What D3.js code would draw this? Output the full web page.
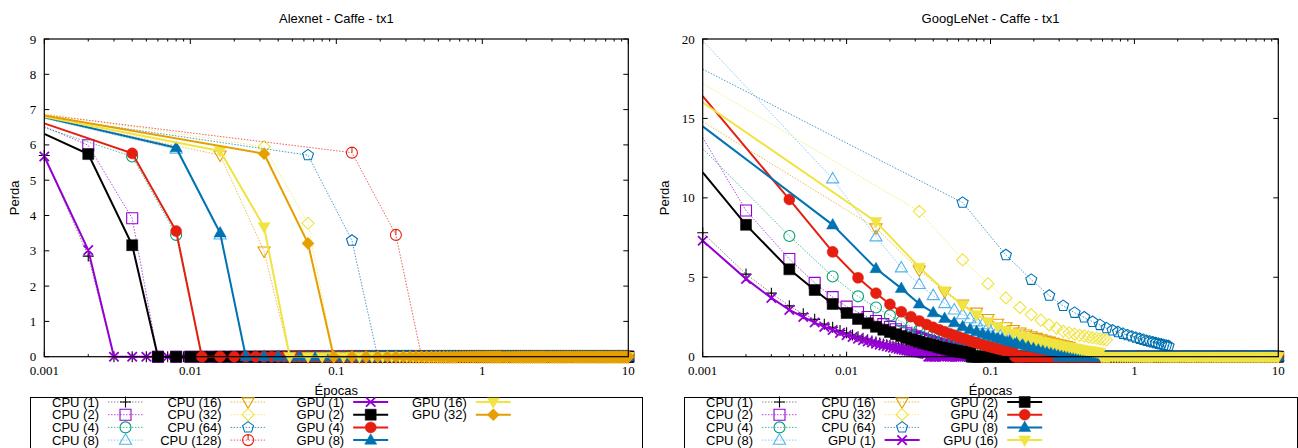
<!DOCTYPE html>
<html>
<head>
<meta charset="utf-8">
<script src="https://cdn.jsdelivr.net/npm/d3@7"></script>
<style>
  body { margin: 0; background: #fff; }
  svg text { font-family: "Liberation Sans", Arial, sans-serif; font-size: 13px; fill: #000; }
  svg text.num { font-family: "Liberation Serif", "Times New Roman", serif; font-size: 13px; }
</style>
</head>
<body>
<svg id="chart" width="1298" height="448"></svg>
<script>
// ---- axes ----
const X_TICKS = [0.001, 0.01, 0.1, 1, 10];
const X_TICK_LABELS = ['0.001', '0.01', '0.1', '1', '10'];
const ALEX_Y_TICKS = [0, 1, 2, 3, 4, 5, 6, 7, 8, 9];
const GOOG_Y_TICKS = [0, 5, 10, 15, 20];
const EPOCH_END = 10;

// ---- Alexnet - Caffe - tx1 (loss per iteration, then flat at 0 up to 10 epochs) ----
const alexCpu1 = [5.70, 2.85];
const alexCpu2 = [5.99, 3.92];
const alexCpu4 = [5.67, 3.45];
const alexCpu8 = [5.88, 3.45];
const alexCpu16 = [5.71, 2.99];
const alexCpu32 = [5.95, 3.78];
const alexCpu64 = [5.71, 3.29];
const alexCpu128 = [5.78, 3.45];
const alexGpu1 = [5.67, 3.02];
const alexGpu2 = [5.74, 3.16];
const alexGpu4 = [5.76, 3.56];
const alexGpu8 = [5.92, 3.51];
const alexGpu16 = [5.83, 3.68];
const alexGpu32 = [5.75, 3.21];
// loss at the left edge (0.001 epochs) for runs whose first iteration is further right
const alexStart = { 'CPU (2)': 6.52, 'CPU (4)': 6.49, 'CPU (8)': 6.75, 'CPU (16)': 6.78, 'CPU (32)': 6.89,
  'CPU (64)': 6.80, 'CPU (128)': 6.85, 'GPU (2)': 6.31, 'GPU (4)': 6.61, 'GPU (8)': 6.78,
  'GPU (16)': 6.80, 'GPU (32)': 6.83 };

// ---- GoogLeNet - Caffe - tx1 ----
const googCpu1 = [7.8, 5.2, 4.0, 3.2, 2.7, 2.35, 2.05, 1.85, 1.65, 1.5, 1.37, 1.26, 1.16, 1.07, 0.99, 0.92, 0.86, 0.8,
  0.75, 0.7, 0.66, 0.62, 0.58, 0.55, 0.52, 0.49, 0.46, 0.43, 0.41, 0.38, 0.36, 0.34, 0.32, 0.3, 0.28, 0.26];
const googCpu2 = [9.2, 6.15, 4.65, 3.75, 3.15, 2.8, 2.5, 2.25, 2.05, 1.88, 1.73, 1.6, 1.48, 1.38, 1.28, 1.2, 1.12, 1.05,
  0.98, 0.92, 0.86, 0.81, 0.76, 0.71, 0.67, 0.63, 0.59, 0.55, 0.52, 0.49, 0.46, 0.43, 0.4, 0.38, 0.35, 0.33];
const googCpu4 = [7.6, 5.05, 3.8, 3.1, 2.6, 2.2, 1.9, 1.68, 1.5, 1.36, 1.24, 1.14, 1.05, 0.97, 0.9, 0.84, 0.78, 0.73,
  0.68, 0.64, 0.6, 0.56, 0.53, 0.5, 0.47, 0.44, 0.41, 0.39, 0.36, 0.34];
const googCpu8 = [11.2, 7.55, 5.6, 4.55, 3.85, 3.35, 2.95, 2.65, 2.4, 2.2, 2.02, 1.87, 1.74, 1.62, 1.51, 1.41, 1.32,
  1.24, 1.16, 1.09, 1.02, 0.96, 0.9, 0.85, 0.8, 0.75, 0.7, 0.66];
const googCpu16 = [8.1, 5.45, 4.1, 3.3, 2.8, 2.4, 2.1, 1.88, 1.7, 1.55, 1.42, 1.31, 1.21, 1.12, 1.04, 0.97, 0.9, 0.84,
  0.79, 0.74, 0.69, 0.65];
const googCpu32 = [9.15, 6.1, 4.6, 3.7, 3.1, 2.65, 2.3, 2.0, 1.8, 1.6, 1.5, 1.42, 1.35, 1.3, 1.25, 1.2, 1.16, 1.12,
  1.09, 1.06];
const googCpu64 = [9.7, 6.4, 4.85, 3.85, 3.2, 2.77, 2.48, 2.2, 2.0, 1.8, 1.66, 1.55, 1.45, 1.36, 1.28, 1.2, 1.13, 1.07,
  1.01, 0.96, 0.91, 0.86, 0.82, 0.78, 0.74, 0.7, 0.67];
const googGpu1 = [7.3, 4.9, 3.7, 2.95, 2.5, 2.15, 1.88, 1.68, 1.5, 1.36, 1.24, 1.13, 1.04, 0.96, 0.89, 0.82, 0.76, 0.71,
  0.66, 0.61, 0.57, 0.53, 0.49, 0.46, 0.43, 0.4, 0.37, 0.34, 0.31, 0.29, 0.27, 0.25, 0.23, 0.21, 0.19, 0.17];
const googGpu2 = [8.3, 5.5, 4.2, 3.32, 2.75, 2.38, 2.1, 1.88, 1.7, 1.55, 1.42, 1.3, 1.2, 1.1, 1.02, 0.94, 0.87, 0.81,
  0.75, 0.7, 0.65, 0.6, 0.56, 0.52, 0.48, 0.45, 0.42, 0.39, 0.36, 0.33, 0.31, 0.29, 0.27, 0.25, 0.23, 0.21];
const googGpu4 = [9.9, 6.6, 4.97, 4.0, 3.3, 2.83, 2.52, 2.25, 2.03, 1.85, 1.7, 1.57, 1.45, 1.35, 1.25, 1.16, 1.08, 1.0,
  0.93, 0.87, 0.81, 0.76, 0.71, 0.66, 0.62, 0.58, 0.54, 0.5, 0.47, 0.44, 0.41, 0.38, 0.35, 0.33, 0.31, 0.29];
const googGpu8 = [8.3, 5.55, 4.3, 3.32, 2.77, 2.42, 2.14, 1.89, 1.72, 1.58, 1.46, 1.35, 1.26, 1.18, 1.1, 1.03, 0.97,
  0.91, 0.86, 0.81, 0.76, 0.72, 0.68, 0.64, 0.6, 0.57, 0.54, 0.51, 0.48, 0.45, 0.42, 0.4, 0.37, 0.35, 0.33, 0.31];
const googGpu16 = [8.5, 5.63, 4.15, 3.26, 2.63, 2.2, 1.89, 1.65, 1.48, 1.35, 1.24, 1.14, 1.06, 0.99, 0.93, 0.87, 0.82,
  0.77, 0.72, 0.68, 0.64, 0.6, 0.57, 0.54, 0.51, 0.48, 0.45, 0.42, 0.4, 0.38, 0.36, 0.34, 0.32, 0.3, 0.28, 0.26];
const googStart = { 'CPU (2)': 13.8, 'CPU (4)': 13.1, 'CPU (8)': 19.9, 'CPU (16)': 14.8, 'CPU (32)': 17.2,
  'CPU (64)': 18.1, 'GPU (2)': 11.6, 'GPU (4)': 16.4, 'GPU (8)': 14.5, 'GPU (16)': 16.0 };

// ---- styles (gnuplot-like) ----
const C = { purple: '#9400d3', green: '#009e73', sky: '#56b4e9', orange: '#e69f00',
  yellow: '#f0e442', blue: '#0072b2', red: '#e51e10', black: '#000000' };
const STYLE = {
  'CPU (1)':   { color: C.black,  mark: 'plus',     cpu: true },
  'CPU (2)':   { color: C.purple, mark: 'square',   cpu: true },
  'CPU (4)':   { color: C.green,  mark: 'circle',   cpu: true },
  'CPU (8)':   { color: C.sky,    mark: 'triUp',    cpu: true },
  'CPU (16)':  { color: C.orange, mark: 'triDown',  cpu: true },
  'CPU (32)':  { color: C.yellow, mark: 'diamond',  cpu: true },
  'CPU (64)':  { color: C.blue,   mark: 'pentagon', cpu: true },
  'CPU (128)': { color: C.red,    mark: 'circleTick', cpu: true },
  'GPU (1)':   { color: C.purple, mark: 'cross' },
  'GPU (2)':   { color: C.black,  mark: 'square',  fill: true },
  'GPU (4)':   { color: C.red,    mark: 'circle',  fill: true },
  'GPU (8)':   { color: C.blue,   mark: 'triUp',   fill: true },
  'GPU (16)':  { color: C.yellow, mark: 'triDown', fill: true },
  'GPU (32)':  { color: C.orange, mark: 'diamond', fill: true },
};

const batchOf = label => +label.match(/\((\d+)\)/)[1];

function series(label, values, start, tail) {
  return { label, values, start: start[label], step: batchOf(label) / 1000, tail };
}

const alexSeries = [
  series('CPU (1)', alexCpu1, alexStart, true), series('CPU (2)', alexCpu2, alexStart, true),
  series('CPU (4)', alexCpu4, alexStart, true), series('CPU (8)', alexCpu8, alexStart, true),
  series('CPU (16)', alexCpu16, alexStart, true), series('CPU (32)', alexCpu32, alexStart, true),
  series('CPU (64)', alexCpu64, alexStart, true), series('CPU (128)', alexCpu128, alexStart, true),
  series('GPU (1)', alexGpu1, alexStart, true), series('GPU (2)', alexGpu2, alexStart, true),
  series('GPU (4)', alexGpu4, alexStart, true), series('GPU (8)', alexGpu8, alexStart, true),
  series('GPU (16)', alexGpu16, alexStart, true), series('GPU (32)', alexGpu32, alexStart, true),
];
const googSeries = [
  series('CPU (1)', googCpu1, googStart, false), series('CPU (2)', googCpu2, googStart, false),
  series('CPU (4)', googCpu4, googStart, false), series('CPU (8)', googCpu8, googStart, false),
  series('CPU (16)', googCpu16, googStart, false), series('CPU (32)', googCpu32, googStart, false),
  series('CPU (64)', googCpu64, googStart, false),
  series('GPU (1)', googGpu1, googStart, true), series('GPU (2)', googGpu2, googStart, true),
  series('GPU (4)', googGpu4, googStart, true), series('GPU (8)', googGpu8, googStart, true),
  series('GPU (16)', googGpu16, googStart, true),
];

const CHARTS = [
  { title: 'Alexnet - Caffe - tx1', left: 44.3, right: 628.3, yMax: 9, yTicks: ALEX_Y_TICKS,
    ylabX: 14, legendX: 30, legendW: 612, data: alexSeries,
    legend: [['CPU (1)', 'CPU (2)', 'CPU (4)', 'CPU (8)'], ['CPU (16)', 'CPU (32)', 'CPU (64)', 'CPU (128)'],
             ['GPU (1)', 'GPU (2)', 'GPU (4)', 'GPU (8)'], ['GPU (16)', 'GPU (32)']] },
  { title: 'GoogLeNet - Caffe - tx1', left: 702.7, right: 1278.3, yMax: 20, yTicks: GOOG_Y_TICKS,
    ylabX: 664, legendX: 684, legendW: 613, data: googSeries,
    legend: [['CPU (1)', 'CPU (2)', 'CPU (4)', 'CPU (8)'], ['CPU (16)', 'CPU (32)', 'CPU (64)', 'GPU (1)'],
             ['GPU (2)', 'GPU (4)', 'GPU (8)', 'GPU (16)']] },
];
const TOP = 39, BOTTOM = 356.7;

// marker outline centred on (x, y)
function markPath(type, x, y) {
  const r = 5.5;
  switch (type) {
    case 'plus': return `M${x - r},${y}H${x + r}M${x},${y - r}V${y + r}`;
    case 'cross': { const q = r * 0.85; return `M${x - q},${y - q}L${x + q},${y + q}M${x - q},${y + q}L${x + q},${y - q}`; }
    case 'square': return `M${x - r},${y - r}h${2 * r}v${2 * r}h${-2 * r}Z`;
    case 'circle': return `M${x - r},${y}a${r},${r} 0 1,0 ${2 * r},0a${r},${r} 0 1,0 ${-2 * r},0Z`;
    case 'circleTick': return markPath('circle', x, y) + `M${x},${y - r}V${y}`;
    case 'triUp': return `M${x},${y - r * 1.15}L${x + r * 1.1},${y + r * 0.75}L${x - r * 1.1},${y + r * 0.75}Z`;
    case 'triDown': return `M${x},${y + r * 1.15}L${x + r * 1.1},${y - r * 0.75}L${x - r * 1.1},${y - r * 0.75}Z`;
    case 'diamond': return `M${x},${y - r * 1.1}L${x + r * 1.1},${y}L${x},${y + r * 1.1}L${x - r * 1.1},${y}Z`;
    case 'pentagon': {
      const pts = d3.range(5).map(i => {
        const a = -Math.PI / 2 + i * 2 * Math.PI / 5;
        return [x + r * 1.05 * Math.cos(a), y + r * 1.05 * Math.sin(a)];
      });
      return 'M' + pts.map(p => p.join(',')).join('L') + 'Z';
    }
  }
  return '';
}

function lineStyle(sel, st) {
  sel.attr('fill', 'none').attr('stroke', st.color);
  if (st.cpu) {
    sel.attr('stroke-width', 1).attr('stroke-dasharray', '1.5,1.5').attr('stroke-opacity', 0.7);
    if (st.color === C.black) sel.attr('stroke', '#555');
  } else {
    sel.attr('stroke-width', 2);
  }
}
function markStyle(sel, st) {
  if (st.fill) sel.attr('fill', st.color).attr('stroke', st.color).attr('stroke-width', 0.5);
  else sel.attr('fill', 'none').attr('stroke', st.color).attr('stroke-width', st.mark === 'cross' ? 1.8 : 1.1);
}

const svg = d3.select('#chart');

CHARTS.forEach(cfg => {
  const x = d3.scaleLog().domain([0.001, EPOCH_END]).range([cfg.left, cfg.right]);
  const y = d3.scaleLinear().domain([0, cfg.yMax]).range([BOTTOM, TOP]);
  const g = svg.append('g');
  const mid = (cfg.left + cfg.right) / 2;

  g.append('text').attr('x', mid).attr('y', 22.5).attr('text-anchor', 'middle').text(cfg.title);
  g.append('text').attr('transform', `translate(${cfg.ylabX + 4.5},${(TOP + BOTTOM) / 2}) rotate(-90)`)
    .attr('text-anchor', 'middle').text('Perda');
  g.append('text').attr('x', mid).attr('y', 394.5).attr('text-anchor', 'middle').text('Épocas');

  // ticks (inward, mirrored)
  const minor = [];
  X_TICKS.slice(0, -1).forEach(t => d3.range(2, 10).forEach(m => minor.push(t * m)));
  const tk = g.append('g').attr('stroke', '#000').attr('stroke-width', 1);
  X_TICKS.forEach(t => {
    tk.append('line').attr('x1', x(t)).attr('x2', x(t)).attr('y1', BOTTOM).attr('y2', BOTTOM - 5);
    tk.append('line').attr('x1', x(t)).attr('x2', x(t)).attr('y1', TOP).attr('y2', TOP + 5);
  });
  minor.forEach(t => {
    tk.append('line').attr('x1', x(t)).attr('x2', x(t)).attr('y1', BOTTOM).attr('y2', BOTTOM - 2.5);
    tk.append('line').attr('x1', x(t)).attr('x2', x(t)).attr('y1', TOP).attr('y2', TOP + 2.5);
  });
  cfg.yTicks.forEach(t => {
    tk.append('line').attr('x1', cfg.left).attr('x2', cfg.left + 5).attr('y1', y(t)).attr('y2', y(t));
    tk.append('line').attr('x1', cfg.right).attr('x2', cfg.right - 5).attr('y1', y(t)).attr('y2', y(t));
  });
  X_TICKS.forEach((t, i) => g.append('text').attr('class', 'num').attr('x', x(t)).attr('y', 375)
    .attr('text-anchor', 'middle').text(X_TICK_LABELS[i]));
  cfg.yTicks.forEach(t => g.append('text').attr('class', 'num').attr('x', cfg.left - 8).attr('y', y(t) + 4.5)
    .attr('text-anchor', 'end').text(t));

  // series, drawn in order so later ones sit on top
  const line = d3.line().x(d => x(d[0])).y(d => y(d[1]));
  cfg.data.forEach(s => {
    const st = STYLE[s.label];
    const pts = s.values.map((v, i) => [(i + 1) * s.step, v]);
    const path = s.start != null ? [[0.001, s.start], ...pts] : pts.slice();
    let marks = pts.map(p => markPath(st.mark, x(p[0]), y(p[1]))).join('');
    if (s.tail) {
      const n0 = s.values.length + 1, n1 = Math.round(EPOCH_END / s.step);
      path.push([n0 * s.step, 0], [EPOCH_END, 0]);
      let last = -Infinity;
      for (let k = n0; k <= n1; k++) {
        const px = x(k * s.step);
        if (px - last >= 1.5 || k === n1) { marks += markPath(st.mark, px, y(0)); last = px; }
      }
    }
    g.append('path').attr('d', line(path)).call(lineStyle, st);
    g.append('path').attr('d', marks).call(markStyle, st);
  });

  // border
  g.append('rect').attr('x', cfg.left).attr('y', TOP).attr('width', cfg.right - cfg.left)
    .attr('height', BOTTOM - TOP).attr('fill', 'none').attr('stroke', '#000').attr('stroke-width', 1.2);

  // legend
  g.append('rect').attr('x', cfg.legendX + 0.5).attr('y', 397.5).attr('width', cfg.legendW).attr('height', 60)
    .attr('fill', 'none').attr('stroke', '#000').attr('stroke-width', 1);
  const rows = [402, 414.7, 427.4, 440.1];
  cfg.legend.forEach((col, ci) => col.forEach((label, ri) => {
    const st = STYLE[label];
    const bx = cfg.legendX + ci * 122.6, yy = rows[ri];
    g.append('text').attr('x', bx + 69).attr('y', yy + 4.5).attr('text-anchor', 'end').text(label);
    g.append('path').attr('d', `M${bx + 78},${yy}H${bx + 113}`).call(lineStyle, st);
    g.append('path').attr('d', markPath(st.mark, bx + 95.5, yy)).call(markStyle, st);
  }));
});
</script>
</body>
</html>
